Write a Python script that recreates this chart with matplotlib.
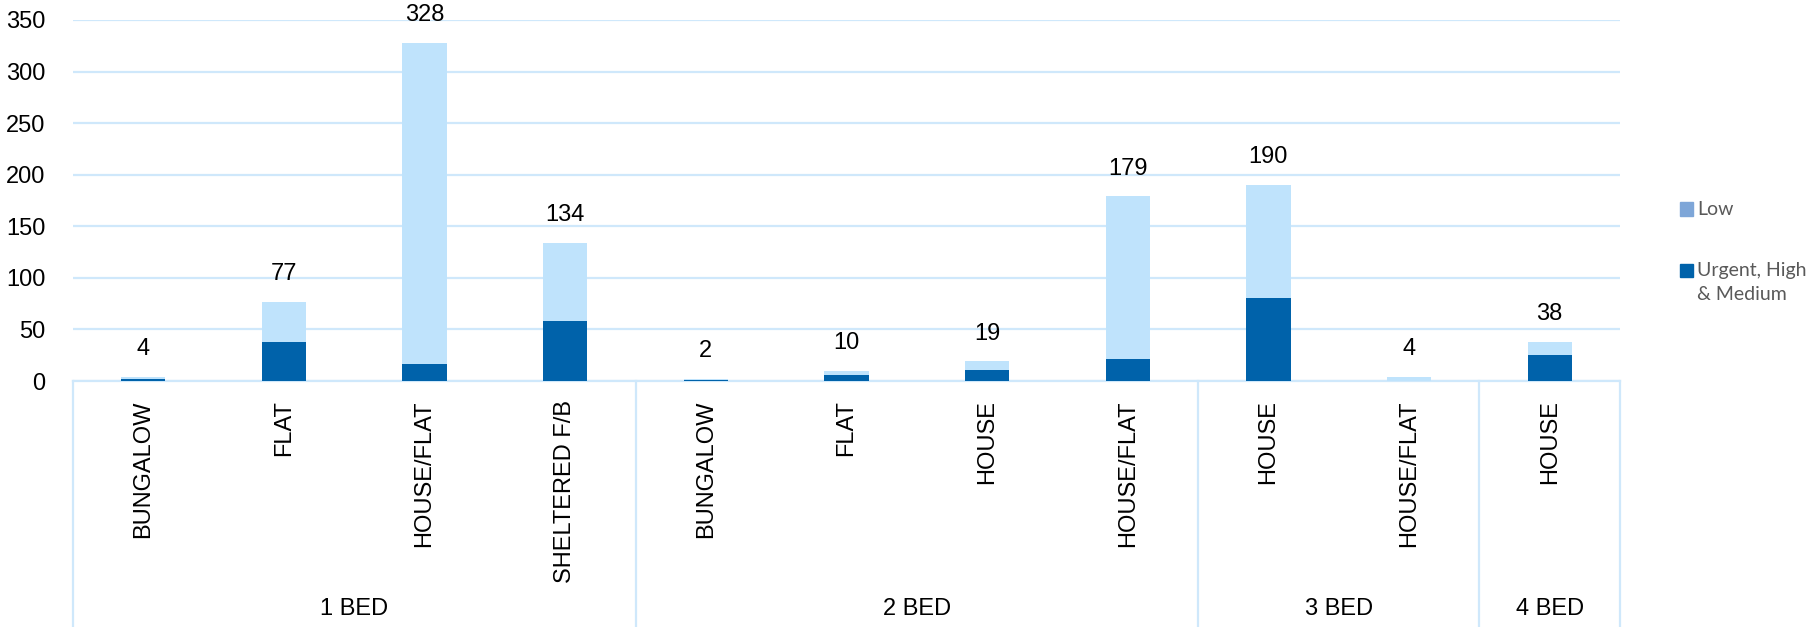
import numpy as np
import matplotlib
matplotlib.use("Agg")
import matplotlib.pyplot as plt
from matplotlib.patches import Rectangle

plt.rcParams['font.family'] = ['Liberation Sans', 'DejaVu Sans']

# bedroom groups and property types
groups = ["1 BED", "2 BED", "3 BED", "4 BED"]
group_sizes = [4, 4, 2, 1]
types = ["BUNGALOW", "FLAT", "HOUSE/FLAT", "SHELTERED F/B",
         "BUNGALOW", "FLAT", "HOUSE", "HOUSE/FLAT",
         "HOUSE", "HOUSE/FLAT",
         "HOUSE"]
urgent = [2, 38, 16, 58, 1, 6, 11, 21, 80, 0, 25]
low = [2, 39, 312, 76, 1, 4, 8, 158, 110, 4, 13]
totals = [4, 77, 328, 134, 2, 10, 19, 179, 190, 4, 38]
legend_labels = ["Low", "Urgent, High\n& Medium"]

dark = "#0062aa"
light = "#bfe3fc"
low_key = "#7ea6d8"
grid_c = "#cfe8fb"

fig = plt.figure(figsize=(18.2, 6.27), dpi=100)
ax = fig.add_axes([73 / 1820, 1 - 381 / 627, (1620 - 73) / 1820, 361 / 627])

x = np.arange(len(types))
w = 0.315
ax.bar(x, urgent, w, color=dark, zorder=3)
ax.bar(x, low, w, bottom=urgent, color=light, zorder=3)

for xi, t in zip(x, totals):
    ax.annotate(str(t), (xi, t), xytext=(0, 20), textcoords="offset points",
                ha="center", va="center", fontsize=17)

ax.set_ylim(0, 350)
ax.set_yticks(range(0, 351, 50))
ax.set_xlim(-0.5, len(types) - 0.5)
ax.grid(axis="y", color=grid_c, lw=1.6, zorder=0)
for s in ["top", "right", "left"]:
    ax.spines[s].set_visible(False)
ax.spines["bottom"].set_color(grid_c)
ax.spines["bottom"].set_linewidth(1.6)
ax.tick_params(axis="y", length=0, pad=20, labelsize=17)
ax.set_xticks(x)
ax.set_xticklabels(types, rotation=90, fontsize=17, va="top")
ax.tick_params(axis="x", length=0, pad=14)

# category box lines and group labels
trans = ax.get_xaxis_transform()
edges = np.concatenate([[0], np.cumsum(group_sizes)]) - 0.5
for e in edges:
    ax.plot([e, e], [0, -0.7], color=grid_c, lw=1.6, transform=trans, clip_on=False)
for g, a, b in zip(groups, edges[:-1], edges[1:]):
    ax.text((a + b) / 2, -0.632, g, transform=trans, ha="center", va="center", fontsize=17)

# legend drawn by hand so the key sits on the first line
for lab, col, yc in zip(legend_labels, [low_key, dark], [209, 270]):
    fig.patches.append(Rectangle((1680 / 1820, 1 - (yc + 6.5) / 627), 13 / 1820, 13 / 627,
                                 color=col, transform=fig.transFigure))
    fig.text(1697 / 1820, 1 - (yc - 8) / 627, lab, va="top", ha="left",
             family="Lato", fontsize=14, color="#595959", linespacing=1.5)

fig.savefig("out.png", dpi=100)
